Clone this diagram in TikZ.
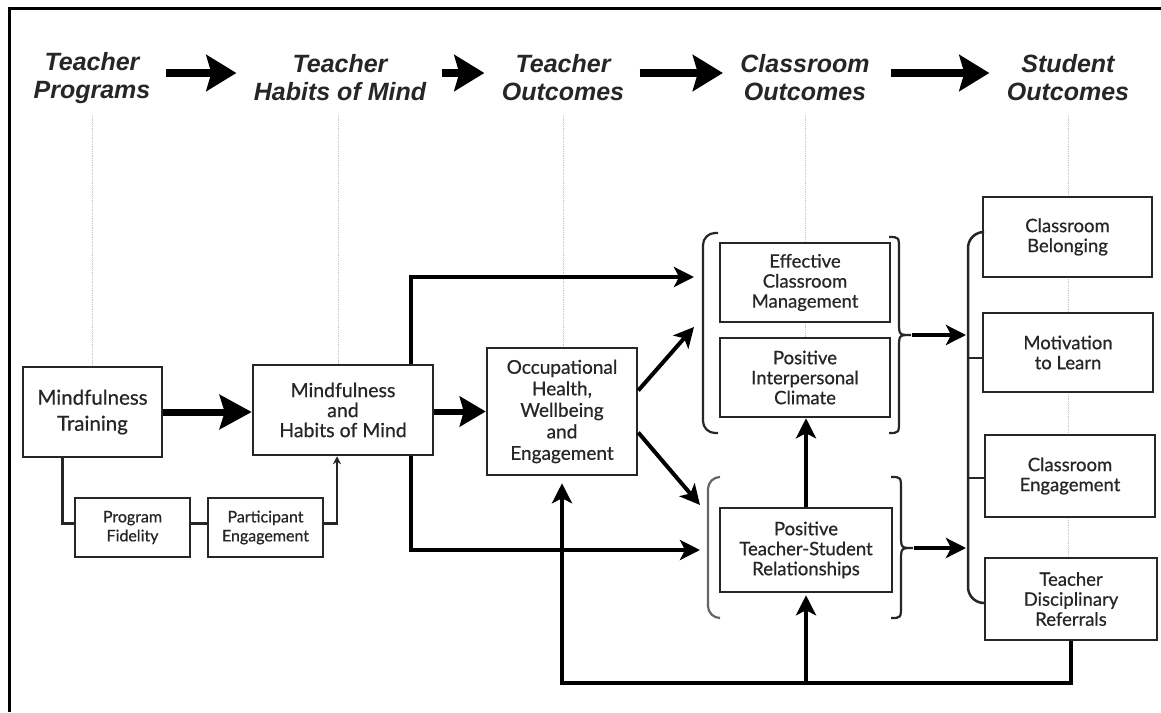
\documentclass[tikz,border=0pt]{standalone}
\usepackage{fontspec}
\setmainfont{Lato}[FakeBold=0.6]
\newfontfamily\hdfont{Liberation Sans}
\usetikzlibrary{arrows.meta}
\begin{document}
\begin{tikzpicture}[x=1pt,y=-1pt,
  box/.style={draw=black!85, line width=2.5pt, fill=white, align=center, inner sep=0pt, text=black!85, font=\fontsize{18.5}{20}\selectfont},
  hd/.style={align=center, text=black!85, font=\hdfont\bfseries\itshape\fontsize{25}{28}\selectfont},
  guide/.style={gray!45, line width=0.8pt, densely dotted},
  hdarrow/.style={line width=8pt, -{Stealth[length=30pt,width=36pt,inset=5pt]}},
  bigarrow/.style={line width=7pt, -{Stealth[length=32pt,width=34pt,inset=5pt]}},
  arr/.style={line width=4pt, -{Stealth[length=20pt,width=20pt,inset=5pt]}},
  thinline/.style={line width=2.2pt, black!85},
  brk/.style={line width=2.2pt, black!85}
]
\useasboundingbox (0,0) rectangle (1161,712);
\fill[white] (0,0) rectangle (1161,712);
% frame
\draw[line width=3pt] (9,712) -- (9,8) -- (1161,8);

% headers
\node[hd] (h1) at (92,78) {Teacher\\Programs};
\node[hd] (h2) at (340,78) {Teacher\\Habits of Mind};
\node[hd] (h3) at (563,78) {Teacher\\Outcomes};
\node[hd] (h4) at (805,78) {Classroom\\Outcomes};
\node[hd] (h5) at (1068,78) {Student\\Outcomes};

% guide lines
\draw[guide] (92,115) -- (92,367);
\draw[guide] (338,115) -- (338,367);
\draw[guide] (563,115) -- (563,348);
\draw[guide] (805,115) -- (805,417);
\draw[guide] (1068,115) -- (1068,640);

% boxes
\node[box, minimum width=139pt, minimum height=90pt, font=\fontsize{20.5}{26}\selectfont] (mt) at (92.5,412) {Mindfulness\\Training};
\node[box, minimum width=180pt, minimum height=90pt, font=\fontsize{19.5}{20}\selectfont] (mhm) at (343,410) {Mindfulness\\and\\Habits of Mind};
\node[box, minimum width=115pt, minimum height=59pt, font=\fontsize{16}{19}\selectfont] (pf) at (132.5,527.5) {Program\\Fidelity};
\node[box, minimum width=115pt, minimum height=59pt, font=\fontsize{16}{19}\selectfont] (pe) at (265.5,527.5) {Participant\\Engagement};
\node[box, minimum width=150pt, minimum height=127pt, font=\fontsize{19}{21.5}\selectfont] (oh) at (562,411.5) {Occupational\\Health,\\Wellbeing\\and\\Engagement};
\node[box, minimum width=170pt, minimum height=79pt] (ecm) at (805,282.5) {Effective\\Classroom\\Management};
\node[box, minimum width=170pt, minimum height=79pt] (pic) at (805,377.5) {Positive\\Interpersonal\\Climate};
\node[box, minimum width=172pt, minimum height=84pt] (ptsr) at (806,550) {Positive\\Teacher-Student\\Relationships};
\node[box, minimum width=169pt, minimum height=80pt] (cb) at (1067.5,237) {Classroom\\Belonging};
\node[box, minimum width=170pt, minimum height=79pt] (ml) at (1068,352.5) {Motivation\\to Learn};
\node[box, minimum width=170pt, minimum height=82pt] (ce) at (1070,476) {Classroom\\Engagement};
\node[box, minimum width=172pt, minimum height=82pt] (tdr) at (1071,599) {Teacher\\Disciplinary\\Referrals};

% header arrows
\draw[hdarrow] ([xshift=12pt,yshift=5pt]h1.east) -- ([xshift=-14pt,yshift=5pt]h2.west);
\draw[hdarrow] ([xshift=12pt,yshift=5pt]h2.east) -- ([xshift=-14pt,yshift=5pt]h3.west);
\draw[hdarrow] ([xshift=12pt,yshift=5pt]h3.east) -- ([xshift=-14pt,yshift=5pt]h4.west);
\draw[hdarrow] ([xshift=18pt,yshift=5pt]h4.east) -- ([xshift=-14pt,yshift=5pt]h5.west);

% main arrows
\draw[bigarrow] (mt.east) -- (mt.east -| mhm.west);
\draw[line width=6pt, -{Stealth[length=26pt,width=30pt,inset=4pt]}] (mhm.east |- oh.west) -- (oh.west);

\coordinate (ptop) at (694,277);
\coordinate (pbot) at (700,550);
\draw[arr] ([xshift=-23pt]mhm.north east) |- (ptop);
\draw[arr] ([xshift=-23pt]mhm.south east) |- (pbot);

\coordinate (d1) at (694,327);
\coordinate (d2) at (700,505);
\draw[arr] ([yshift=21pt]oh.east) -- (d1);
\draw[arr] ([yshift=-21pt]oh.east) -- (d2);

\draw[arr] (ptsr.north) -- (ptsr.north |- pic.south);

% small connectors
\draw[thinline] ([xshift=-30pt]mt.south) |- ([yshift=4pt]pf.west);
\draw[thinline] ([yshift=4pt]pf.east) -- ([yshift=4pt]pe.west);
\draw[thinline, -{Stealth[length=8pt,width=8pt]}] ([yshift=4pt]pe.east) -| ([xshift=-6pt]mhm.south);

% brackets, classroom outcomes
\draw[brk, rounded corners=12pt] (718,233) -- (703,233) -- (703,433) -- (718,433);
\draw[brk, black!60, rounded corners=12pt] (720,477) -- (708,477) -- (708,618) -- (720,618);
\draw[brk] (889,237) .. controls (899,237) .. (899,250) -- (899,322) .. controls (899,335) .. (911,335) .. controls (899,335) .. (899,348) -- (899,420) .. controls (899,433) .. (889,433);
\draw[brk] (891,477) .. controls (901,477) .. (901,490) -- (901,535) .. controls (901,548) .. (913,548) .. controls (901,548) .. (901,561) -- (901,605) .. controls (901,618) .. (891,618);

% student outcome bracket
\draw[line width=2.5pt, black!85, rounded corners=16pt] (cb.west |- 0,232) -- (968,232) -- (968,603) -- (tdr.west |- 0,603);
\draw[line width=2.5pt, black!85] (968,358) -- (ml.west |- 0,358);
\draw[line width=2.5pt, black!85] (968,478) -- (ce.west |- 0,478);

\coordinate (b1) at (966,335);
\coordinate (b2) at (966,548);
\draw[arr] (912,335) -- (b1);
\draw[arr] (914,548) -- (b2);

% feedback loop
\coordinate (fby) at (0,683);
\draw[arr] (tdr.south) |- (oh.south |- fby) -- ([yshift=-7pt]oh.south);
\draw[arr] (ptsr.south |- fby) -- ([yshift=-2pt]ptsr.south);
\end{tikzpicture}
\end{document}
